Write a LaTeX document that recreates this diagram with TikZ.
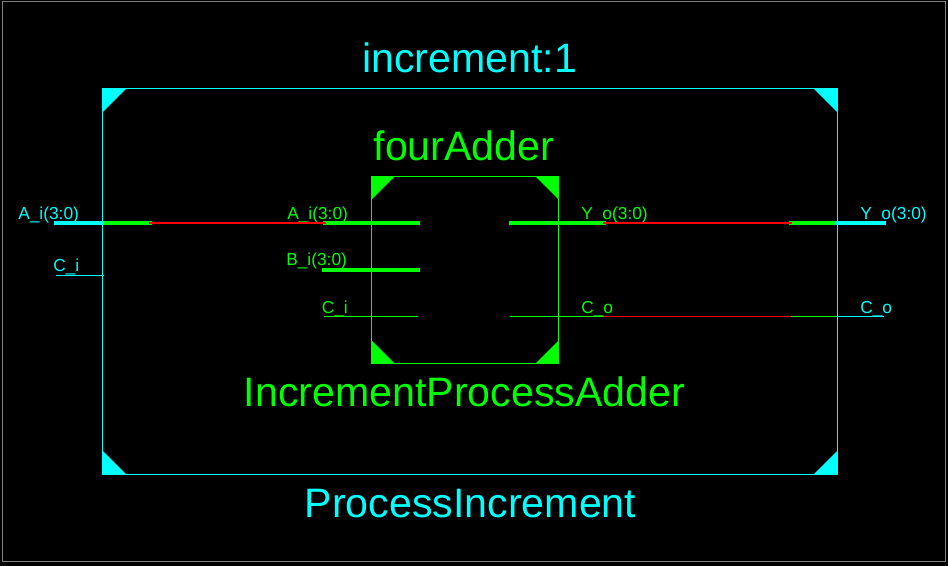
\documentclass[tikz,border=0pt]{standalone}
\usepackage{fontspec}
\setmainfont{Liberation Sans}
\definecolor{netcyan}{RGB}{0,255,255}
\definecolor{netgreen}{RGB}{0,255,0}
\definecolor{netred}{RGB}{255,0,0}
\definecolor{framegrey}{RGB}{128,128,128}
\tikzset{
	title/.style={font=\fontsize{30.85}{32}\selectfont,inner sep=0pt,anchor=base},
	pinlabel/.style={font=\fontsize{13}{14}\selectfont,inner sep=0pt,anchor=base west},
	block/.style={draw,line width=0.75pt,inner sep=0pt,outer sep=0pt},
	bus/.style={line width=3pt},
	net/.style={line width=0.75pt},
	redbus/.style={netred,line width=1.5pt},
}
\begin{document}
\begin{tikzpicture}[x=0.75pt,y=-0.75pt]
	\useasboundingbox (0,0) rectangle (948,566);
	\fill[black] (0,0) rectangle (948,566);
	\node[block,framegrey,minimum width=707.25pt,minimum height=420pt] (sheet) at (473.5,281.5) {};
	\node[block,netcyan,minimum width=551.25pt,minimum height=289.5pt] (incbox) at (470,281.5) {};
	\node[block,netgreen,minimum width=140.25pt,minimum height=140.25pt] (addbox) at (465,270) {};
	\fill[netcyan] (incbox.north west)--++(24,0)--++(-24,24)--cycle;
	\fill[netcyan] (incbox.north east)--++(-24,0)--++(24,24)--cycle;
	\fill[netcyan] (incbox.south west)--++(24,0)--++(-24,-24)--cycle;
	\fill[netcyan] (incbox.south east)--++(-24,0)--++(24,-24)--cycle;
	\fill[netgreen] (addbox.north west)--++(23,0)--++(-23,23)--cycle;
	\fill[netgreen] (addbox.north east)--++(-23,0)--++(23,23)--cycle;
	\fill[netgreen] (addbox.south west)--++(23,0)--++(-23,-23)--cycle;
	\fill[netgreen] (addbox.south east)--++(-23,0)--++(23,-23)--cycle;
	\node[title,netcyan] (inctitle) at (469.5,72.5) {increment:1};
	\node[title,netgreen] (addtitle) at (464,161) {fourAdder};
	\node[title,netgreen] (addname) at (464.5,406) {IncrementProcessAdder};
	\node[title,netcyan] (incname) at (470.5,517) {ProcessIncrement};
	\node[pinlabel,netcyan] (aouter) at (18,220) {A\_i(3:0)};
	\node[pinlabel,netcyan] (couter) at (53,272) {C\_i};
	\node[pinlabel,netcyan] (youter) at (860,220) {Y\_o(3:0)};
	\node[pinlabel,netcyan] (coouter) at (860,313) {C\_o};
	\node[pinlabel,netgreen] (ainner) at (287,220) {A\_i(3:0)};
	\node[pinlabel,netgreen] (binner) at (286,266) {B\_i(3:0)};
	\node[pinlabel,netgreen] (cinner) at (321.5,313) {C\_i};
	\node[pinlabel,netgreen] (yinner) at (581,220) {Y\_o(3:0)};
	\node[pinlabel,netgreen] (coinner) at (581,313) {C\_o};
	\coordinate (a0) at (54,223);
	\coordinate (a1) at (104,223);
	\coordinate (a2) at (151.5,223);
	\coordinate (a3) at (323,223);
	\coordinate (a4) at (420,223);
	\coordinate (b0) at (322,270);
	\coordinate (b1) at (420,270);
	\coordinate (c0) at (56,275.5);
	\coordinate (c1) at (103.5,275.5);
	\coordinate (d0) at (324,316.5);
	\coordinate (d1) at (418,316.5);
	\coordinate (y0) at (509,223);
	\coordinate (y1) at (606,223);
	\coordinate (y2) at (789,223);
	\coordinate (y3) at (836,223);
	\coordinate (y4) at (886,223);
	\coordinate (o0) at (510,316.5);
	\coordinate (o1) at (604,316.5);
	\coordinate (o2) at (791,316.5);
	\coordinate (o3) at (837,316.5);
	\coordinate (o4) at (884,316.5);
	\draw[bus,netcyan] (a0)--(a1);
	\draw[bus,netgreen] (a1)--(a2);
	\draw[bus,netgreen] (a3)--(a4);
	\draw[redbus] ([xshift=-2pt]a2)--([xshift=2pt]a3);
	\draw[bus,netgreen] (b0)--(b1);
	\draw[net,netcyan] (c0)--(c1);
	\draw[net,netgreen] (d0)--(d1);
	\draw[bus,netgreen] (y0)--(y1);
	\draw[bus,netgreen] (y2)--(y3);
	\draw[bus,netcyan] (y3)--(y4);
	\draw[redbus] ([xshift=-2pt]y1)--([xshift=2pt]y2);
	\draw[net,netgreen] (o0)--(o1);
	\draw[net,netred] (o1)--(o2);
	\draw[net,netgreen] (o2)--(o3);
	\draw[net,netcyan] (o3)--(o4);
\end{tikzpicture}
\end{document}
